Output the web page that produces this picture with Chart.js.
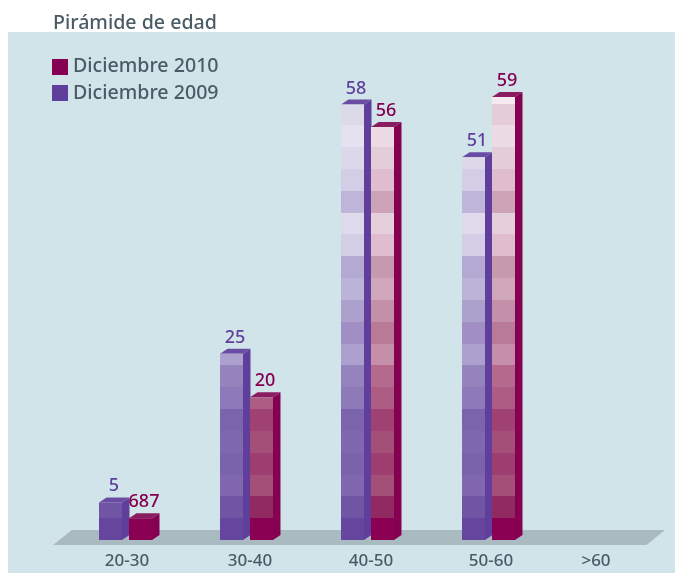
<!DOCTYPE html>
<html>
<head>
<meta charset="utf-8">
<style>html,body{margin:0;padding:0;background:#fff}canvas{display:block}</style>
<script src="https://cdn.jsdelivr.net/npm/chart.js@4"></script>
</head>
<body>
<canvas id="c" width="675" height="573"></canvas>
<script>
const titleText = "Pirámide de edad";
const categories = ["20-30", "30-40", "40-50", "50-60", ">60"];
const series2009 = [5, 24.8, 58, 51, null];
const series2010 = [2.9, 19, 55, 59, null];
const labels2009 = ["5", "25", "58", "51", ""];
const labels2010 = ["687", "20", "56", "59", ""];
const name2009 = "Diciembre 2009";
const name2010 = "Diciembre 2010";
const bands2009 = ["#65459e","#6f55a3","#8067b0","#7a63ab","#8068b1","#7c64ad","#8f7ab9","#9583bd","#ada0cf","#a08ec5","#aca0cd","#bcb3d8","#b4a9d3","#d3cde6","#dedaeb","#bfb5d8","#d3cee6","#dcd8ea","#e5e1f0","#dcd9e9","#f0eef7"];
const bands2010 = ["#8a0052","#922a62","#a44f78","#9e3e70","#a34f77","#9f4172","#ad5d84","#b46a8c","#c58fa9","#b87a96","#c48fa9","#cfa6ba","#c799ae","#dfbdcf","#e5cfda","#cda3b8","#dfbdcf","#e3cdd8","#ecdbe5","#e4cdd9","#f6eaf0"];
const bandUnits = 2.907;
const textColor = "#4a5b66", color2009 = "#5f3f9b", color2010 = "#850050";
const top2009 = "#6a4ca4", top2010 = "#8a1c60";
const fontFamily = "'Noto Sans', sans-serif";
const tickShift = [1.5, 3.5, 3.5, 2.5, -13.5];

function bandFill(bands) {
  return function (ctx) {
    const y = ctx.chart.scales.y;
    if (!y) return bands[0];
    const y0 = y.getPixelForValue(0), y1 = y.getPixelForValue(bandUnits * bands.length);
    const g = ctx.chart.ctx.createLinearGradient(0, y0, 0, y1);
    bands.forEach((c, i) => {
      g.addColorStop(i / bands.length, c);
      g.addColorStop((i + 1) / bands.length, c);
    });
    return g;
  };
}
function swatch(color) {
  const s = document.createElement("canvas");
  s.width = 16; s.height = 16;
  const x = s.getContext("2d");
  x.fillStyle = color; x.fillRect(0, 0, 16, 16);
  return s;
}
const depthX = 7.5, depthY = 5;
function poly(ctx, pts, fill) {
  ctx.fillStyle = fill;
  ctx.beginPath();
  pts.forEach((p, i) => i ? ctx.lineTo(p[0], p[1]) : ctx.moveTo(p[0], p[1]));
  ctx.closePath();
  ctx.fill();
}
const scene = {
  id: "scene",
  afterLayout(chart) {
    const l = chart.legend;
    if (l) { l.left = 49.2; l.right = 240; l.top = 50; l.bottom = 140; }
  },
  beforeDraw(chart) {
    const c = chart.ctx;
    c.save();
    c.fillStyle = "#d1e4ea";
    c.fillRect(8, 32, 667, 541);
    c.restore();
  },
  beforeDatasetsDraw(chart) {
    const c = chart.ctx, base = chart.scales.y.getPixelForValue(0);
    c.save();
    poly(c, [[53, base + 5], [72, base - 10], [665, base - 10], [646.5, base + 5]], "#a9bac1");
    const sides = [color2009, color2010], tops = [top2009, top2010];
    chart.data.datasets.forEach((d, di) => {
      chart.getDatasetMeta(di).data.forEach((bar, i) => {
        if (d.data[i] == null) return;
        const hw = bar.width / 2, x0 = bar.x - hw, x1 = bar.x + hw, t = bar.y;
        poly(c, [[x1, t], [x1 + depthX, t - depthY], [x1 + depthX, base - depthY], [x1, base]], sides[di]);
        poly(c, [[x0, t], [x0 + depthX, t - depthY], [x1 + depthX, t - depthY], [x1, t]], tops[di]);
      });
    });
    c.restore();
  },
  afterDatasetsDraw(chart) {
    const c = chart.ctx;
    c.save();
    c.font = "500 18px " + fontFamily;
    c.textAlign = "center";
    c.textBaseline = "alphabetic";
    const texts = [labels2009, labels2010], colors = [color2009, color2010];
    chart.data.datasets.forEach((d, di) => {
      c.fillStyle = colors[di];
      chart.getDatasetMeta(di).data.forEach((bar, i) => {
        if (texts[di][i]) c.fillText(texts[di][i], bar.x + 3.5, bar.y - 11);
      });
    });
    c.restore();
  }
};
new Chart(document.getElementById("c"), {
  type: "bar",
  plugins: [scene],
  data: {
    labels: categories,
    datasets: [
      { label: name2009, data: series2009, backgroundColor: bandFill(bands2009), borderWidth: 0, categoryPercentage: 60 / 121, barPercentage: 23 / 30 },
      { label: name2010, data: series2010, backgroundColor: bandFill(bands2010), borderWidth: 0, categoryPercentage: 60 / 121, barPercentage: 23 / 30 }
    ]
  },
  options: {
    responsive: false,
    animation: false,
    layout: { padding: { left: 53, right: 5, top: 0, bottom: 0 } },
    plugins: {
      tooltip: { enabled: false },
      title: {
        display: true, text: titleText, align: "start", color: textColor,
        font: { family: fontFamily, size: 19.6, weight: "500" },
        padding: { top: 12, bottom: 1.5 }
      },
      legend: {
        position: "chartArea", align: "start",
        labels: {
          usePointStyle: true, pointStyleWidth: 7, boxHeight: 16, padding: 7, color: textColor,
          font: { family: fontFamily, size: 19.6, weight: "500" },
          generateLabels() {
            return [
              { text: name2010, pointStyle: swatch(color2010), fontColor: textColor, datasetIndex: 1 },
              { text: name2009, pointStyle: swatch(color2009), fontColor: textColor, datasetIndex: 0 }
            ];
          }
        }
      }
    },
    scales: {
      x: {
        grid: { display: false }, border: { display: false },
        ticks: { color: textColor, padding: 3, maxRotation: 0, autoSkip: false, font: { family: fontFamily, size: 17, weight: "500" } },
        afterBuildTicks(s) {
          if (!s._shifted) {
            const origItems = s._computeLabelItems, origTick = s.getPixelForTick;
            s._computeLabelItems = function (area) {
              s.getPixelForTick = function (i) { return origTick.call(s, i) + (tickShift[i] || 0); };
              const r = origItems.call(s, area);
              delete s.getPixelForTick;
              return r;
            };
            s._shifted = true;
          }
        },
        afterFit(s) { s.height = 33; }
      },
      y: {
        min: 0, max: 67,
        grid: { display: false }, border: { display: false },
        ticks: { display: false },
        afterFit(s) { s.width = 12; }
      }
    }
  }
});
</script>
</body>
</html>
